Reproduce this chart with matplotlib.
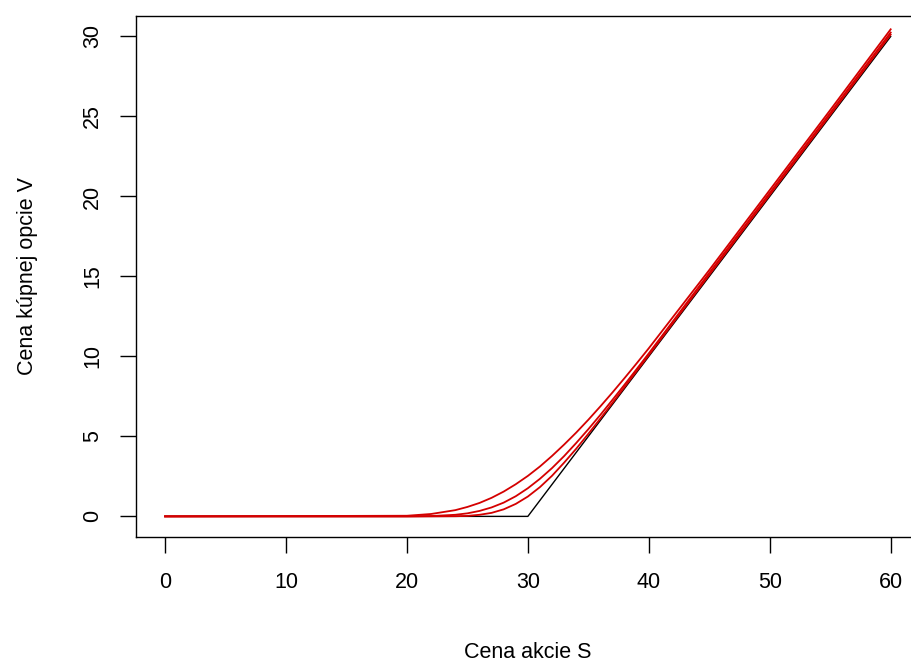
import matplotlib
matplotlib.use("Agg")
import matplotlib.pyplot as plt

plt.rcParams['font.family'] = ['Liberation Sans', 'DejaVu Sans']

# Stock price grid
S = [0, 20, 22, 24, 25, 26, 27, 28, 29, 30, 31, 32, 33, 34, 35, 36, 37, 38, 39, 40, 45, 50, 55, 60]
# Payoff at maturity (black)
payoff = [0, 0, 0, 0, 0, 0, 0, 0, 0, 0, 1, 2, 3, 4, 5, 6, 7, 8, 9, 10, 15, 20, 25, 30]
# Call option values for three times to maturity (red)
call_long = [0, 0.04, 0.15, 0.39, 0.59, 0.84, 1.16, 1.55, 2.01, 2.53, 3.12, 3.78, 4.49, 5.24, 6.04, 6.88, 7.75, 8.65, 9.57, 10.51, 15.40, 20.40, 25.40, 30.45]
call_mid = [0, 0.0, 0.02, 0.10, 0.19, 0.34, 0.56, 0.86, 1.26, 1.76, 2.35, 3.02, 3.77, 4.59, 5.45, 6.35, 7.29, 8.24, 9.21, 10.19, 15.22, 20.22, 25.22, 30.25]
call_short = [0, 0.0, 0.0, 0.01, 0.03, 0.10, 0.22, 0.44, 0.78, 1.24, 1.83, 2.54, 3.36, 4.23, 5.16, 6.12, 7.10, 8.09, 9.09, 10.08, 15.10, 20.10, 25.10, 30.12]

xticks = [0, 10, 20, 30, 40, 50, 60]
yticks = [0, 5, 10, 15, 20, 25, 30]

W, H = 911, 665
fig = plt.figure(figsize=(W / 100, H / 100), dpi=100)
fig.patch.set_facecolor('white')
fig.patch.set_edgecolor('none')
fig.patch.set_linewidth(0)
left, right, top, bottom = 136, 919.7, 15.7, 536.7
ax = fig.add_axes([left / W, 1 - bottom / H, (right - left) / W, (bottom - top) / H])
ax.patch.set_edgecolor('none')

ax.plot(S, payoff, color='black', lw=1.0)
for v in (call_long, call_mid, call_short):
    ax.plot(S, v, color='#d40000', lw=1.3)

ax.set_xlim(-2.4, 62.4)
ax.set_ylim(-1.27, 31.3)
ax.set_xticks(xticks)
ax.set_yticks(yticks)
ax.set_yticklabels([str(t) for t in yticks], rotation=90, va='center')

for sp in ax.spines.values():
    sp.set_linewidth(1.0)
    sp.set_color('black')
ax.spines['right'].set_visible(False)

ax.tick_params(axis='both', direction='out', length=11.5, width=1.0, labelsize=15.5, color='black')
ax.tick_params(axis='x', pad=14)
ax.tick_params(axis='y', pad=12)

ax.set_xlabel('Cena akcie S', fontsize=15.5, labelpad=35)
ax.set_ylabel('Cena kúpnej opcie V', fontsize=15.5, labelpad=32)

fig.savefig('out.png', dpi=100, facecolor='white', edgecolor='none')
